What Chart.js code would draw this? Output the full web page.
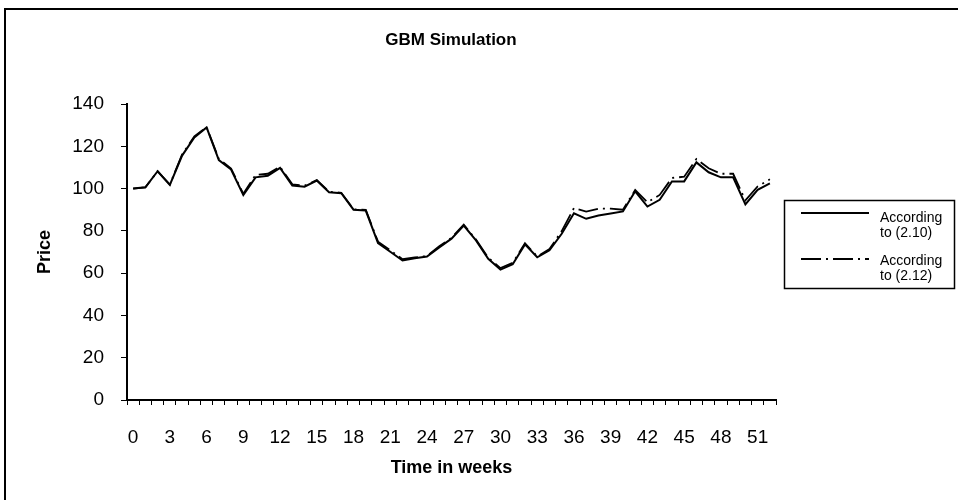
<!DOCTYPE html>
<html><head><meta charset="utf-8">
<script src="https://cdn.jsdelivr.net/npm/chart.js@4/dist/chart.umd.min.js"></script>
<style>html,body{margin:0;padding:0;background:#fff}#wrap{width:958px;height:500px;position:relative}</style>
</head><body><div id="wrap"><canvas id="c" width="958" height="500"></canvas></div>
<script>
const weeks = [0,1,2,3,4,5,6,7,8,9,10,11,12,13,14,15,16,17,18,19,20,21,22,23,24,25,26,27,28,29,30,31,32,33,34,35,36,37,38,39,40,41,42,43,44,45,46,47,48,49,50,51,52];
const priceEq210 = [100,100.6,108.2,101.7,115.6,124.2,128.9,113.5,109.0,97.0,105.3,106.1,109.8,101.4,100.9,103.8,98.3,97.8,90.0,89.6,74.2,70.1,66.0,67.0,67.9,72.2,76.3,82.5,75.5,66.8,61.7,64.2,73.6,67.5,70.8,78.6,88.3,85.7,87.3,88.2,89.2,98.7,91.5,94.7,103.4,103.4,112.4,107.7,105.3,105.3,92.5,99.4,102.5];
const priceEq212 = [100,100.6,108.2,101.9,116.1,124.7,129.1,114,109.5,97.5,106.5,107,110.3,102,101.4,104,98.5,98,90.2,89.9,74.9,70.8,66.6,67.4,68.1,72.7,76.7,82.9,75.9,67.3,62.4,64.9,74.1,67.9,71.4,79.9,90.8,89.1,90.5,90.5,90,99.3,93.5,97,105,105.6,114,109.6,107,107,94.4,101,104.4];
const seriesNames = [["According","to (2.10)"],["According","to (2.12)"]];
const chartTitle = "GBM Simulation";
const xTitle = "Time in weeks";
const yTitle = "Price";
const yMin = 0, yMax = 140, yStep = 20;
const labelEvery = 3;

const FONT = "'Liberation Sans', Arial, sans-serif";
const DASHDOT = [20,5,2,5];

const decor = {
  id: 'decor',
  beforeDraw(chart) {
    const ctx = chart.ctx;
    ctx.save();
    ctx.fillStyle = '#fff';
    ctx.fillRect(0,0,chart.width,chart.height);
    ctx.strokeStyle = '#000';
    ctx.lineWidth = 2;
    ctx.strokeRect(5, 9, 1000, 600);
    ctx.restore();
  },
  afterDraw(chart) {
    const ctx = chart.ctx;
    ctx.save();
    ctx.fillStyle = '#000';
    ctx.font = "bold 17px " + FONT;
    ctx.textAlign = 'center';
    ctx.textBaseline = 'middle';
    ctx.fillText(chartTitle, 451, 40);
    ctx.strokeStyle = '#000';
    ctx.lineWidth = 1.5;
    ctx.strokeRect(784.5, 200.5, 170, 88);
    const ds = chart.data.datasets;
    const rows = [213, 259];
    const txt = [[218, 233], [261, 276]];
    ctx.font = "14px " + FONT;
    ctx.textAlign = 'left';
    ctx.textBaseline = 'middle';
    ds.forEach((d, i) => {
      const y = rows[i];
      ctx.beginPath();
      ctx.setLineDash(d.borderDash || []);
      ctx.lineWidth = d.borderWidth;
      ctx.strokeStyle = d.borderColor;
      ctx.moveTo(801, y);
      ctx.lineTo(869, y);
      ctx.stroke();
      ctx.setLineDash([]);
      ctx.fillText(seriesNames[i][0], 880, txt[i][0]);
      ctx.fillText(seriesNames[i][1], 880, txt[i][1]);
    });
    ctx.restore();
  }
};

new Chart(document.getElementById('c'), {
  type: 'line',
  data: {
    labels: weeks,
    datasets: [
      { label: seriesNames[0].join(' '), data: priceEq210, borderColor: '#000', borderWidth: 2, pointRadius: 0, tension: 0, fill: false },
      { label: seriesNames[1].join(' '), data: priceEq212, borderColor: '#000', borderWidth: 1.8, borderDash: DASHDOT, pointRadius: 0, tension: 0, fill: false }
    ]
  },
  options: {
    responsive: false,
    animation: false,
    devicePixelRatio: 1,
    layout: { padding: { left: 30, top: 104, right: 182, bottom: 21 } },
    plugins: { legend: { display: false }, title: { display: false }, tooltip: { enabled: false } },
    scales: {
      x: {
        type: 'category',
        offset: true,
        grid: { offset: true, drawOnChartArea: false, drawTicks: true, tickLength: 5, color: '#000', lineWidth: 1 },
        border: { color: '#000', width: 2 },
        ticks: {
          autoSkip: false, maxRotation: 0, minRotation: 0, color: '#000', padding: 21,
          font: { family: FONT, size: 19 },
          callback: function(v, i) { return i % labelEvery === 0 ? String(weeks[i]) : ''; }
        },
        title: { display: true, text: xTitle, color: '#000', font: { family: FONT, size: 18, weight: 'bold' }, padding: { top: 0, bottom: 0 } },
        afterFit: function(s) { s.height = 79; }
      },
      y: {
        min: yMin, max: yMax,
        grid: { drawOnChartArea: false, drawTicks: true, tickLength: 6, color: '#000', lineWidth: 1 },
        border: { color: '#000', width: 2 },
        ticks: { stepSize: yStep, color: '#000', padding: 17, font: { family: FONT, size: 19 } },
        title: { display: true, text: yTitle, color: '#000', font: { family: FONT, size: 18, weight: 'bold' }, padding: { top: 4, bottom: 0 } },
        afterFit: function(s) { s.width = 97; }
      }
    }
  },
  plugins: [decor]
});
</script>
</body></html>
